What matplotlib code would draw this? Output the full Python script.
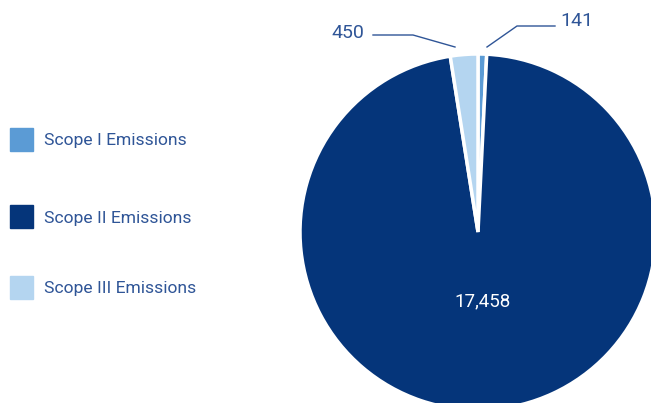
import matplotlib.pyplot as plt
from matplotlib.patches import Rectangle

# emissions by scope (tCO2e)
labels = ['Scope I Emissions', 'Scope II Emissions', 'Scope III Emissions']
values = [141, 17458, 450]
colors = ['#5b9bd5', '#05357a', '#b4d5f0']
text_color = '#2f5597'

plt.rcParams['font.family'] = ['Roboto', 'DejaVu Sans']

W, H = 651, 403
fig = plt.figure(figsize=(W / 100, H / 100), dpi=100)
ax = fig.add_axes([0, 0, 1, 1])

def py(y):
    # work in pixel rows measured from the top
    return H - y

cx, cy, r = 478, 232, 178
ax.pie(values, colors=colors, startangle=90, counterclock=False,
       center=(cx, py(cy)), radius=r, frame=True,
       wedgeprops=dict(edgecolor='white', linewidth=2.5))
ax.set_xlim(0, W)
ax.set_ylim(0, H)
ax.set_aspect('equal')
ax.axis('off')

# big slice value
ax.text(483, py(301), f'{values[1]:,}', color='white', fontsize=13.5,
        ha='center', va='center')

# small slice callouts
ax.plot([487, 517, 555], [py(47), py(26), py(26)], color=text_color, lw=1)
ax.text(560, py(21), f'{values[0]:,}', color=text_color, fontsize=14,
        ha='left', va='center')
ax.plot([455, 413, 373], [py(47), py(35), py(35)], color=text_color, lw=1)
ax.text(364, py(33), f'{values[2]:,}', color=text_color, fontsize=14,
        ha='right', va='center')

# legend
rows = [139, 216, 287]
for lab, col, y in zip(labels, colors, rows):
    ax.add_patch(Rectangle((10, py(y) - 11.5), 23, 23, color=col))
    ax.text(44, py(y + 2), lab, color=text_color, fontsize=12.6,
            ha='left', va='center')

fig.savefig('out.png', dpi=100)
